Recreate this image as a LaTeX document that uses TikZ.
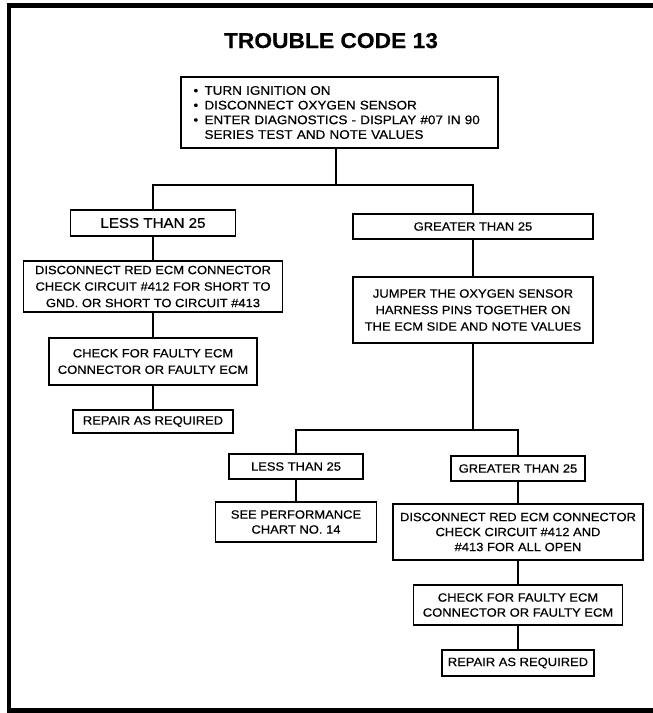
\documentclass[tikz,border=0pt]{standalone}
\usepackage{fontspec}
\setmainfont{Liberation Sans}[FakeStretch=1.08, FakeBold=0.5]
\newfontfamily\titlefont{Liberation Sans Bold}[FakeStretch=1.06, FakeBold=0.5]
\begin{document}
\begin{tikzpicture}[x=1pt,y=-1pt]
\tikzset{
  box/.style={draw, line width=1.1pt, inner sep=0pt, align=center, font=\fontsize{12}{16.5}\selectfont},
  tightbox/.style={box, font=\fontsize{12}{15}\selectfont},
  link/.style={line width=1.1pt},
  frame/.style={line width=4.5pt}
}
\useasboundingbox (0,0) rectangle (653,713);
\clip (0,0) rectangle (653,713);
\fill[white] (0,0) rectangle (653,713);
\draw[frame] (670,5.5) -- (9,5.5) -- (9,710.5) -- (670,710.5);

\node[anchor=base, font=\titlefont\fontsize{21.5}{24}\selectfont] (title) at (331,48) {TROUBLE CODE 13};

\node[box, minimum width=317, minimum height=71, text width=292, align=left,
      font=\fontsize{12.5}{14.7}\selectfont] (top) at (339.5,112.5)
 {\makebox[11pt][l]{\textbullet}TURN IGNITION ON\\
  \makebox[11pt][l]{\textbullet}DISCONNECT OXYGEN SENSOR\\
  \makebox[11pt][l]{\textbullet}ENTER DIAGNOSTICS - DISPLAY \#07 IN 90\\
  \hspace*{11pt}SERIES TEST AND NOTE VALUES};

% left column
\node[box, minimum width=165, minimum height=26, font=\fontsize{14}{16}\selectfont] (lessA) at (153,223) {LESS THAN 25};
\node[box, minimum width=259, minimum height=51] (discA) at (153,286.5)
 {DISCONNECT RED ECM CONNECTOR\\CHECK CIRCUIT \#412 FOR SHORT TO\\GND. OR SHORT TO CIRCUIT \#413};
\node[box, minimum width=208, minimum height=47] (checkA) at (153,361.5)
 {CHECK FOR FAULTY ECM\\CONNECTOR OR FAULTY ECM};
\node[box, minimum width=160, minimum height=23] (repairA) at (153,421.5) {REPAIR AS REQUIRED};

% right column
\node[box, minimum width=240, minimum height=25] (grtA) at (473,226.5) {GREATER THAN 25};
\node[box, minimum width=240, minimum height=66] (jumper) at (473,310)
 {JUMPER THE OXYGEN SENSOR\\HARNESS PINS TOGETHER ON\\THE ECM SIDE AND NOTE VALUES};

% lower branches
\node[tightbox, minimum width=134, minimum height=25] (lessB) at (296,466.5) {LESS THAN 25};
\node[tightbox, minimum width=161, minimum height=40] (perf) at (296,522)
 {SEE PERFORMANCE\\CHART NO. 14};
\node[tightbox, minimum width=134, minimum height=25] (grtB) at (518,468.5) {GREATER THAN 25};
\node[tightbox, minimum width=250, minimum height=56] (discB) at (518,532)
 {DISCONNECT RED ECM CONNECTOR\\CHECK CIRCUIT \#412 AND\\\#413 FOR ALL OPEN};
\node[tightbox, minimum width=209, minimum height=40] (checkB) at (518,605)
 {CHECK FOR FAULTY ECM\\CONNECTOR OR FAULTY ECM};
\node[tightbox, minimum width=152, minimum height=26] (repairB) at (518,663) {REPAIR AS REQUIRED};

% connectors
\coordinate (split1) at (336,185);
\coordinate (split2) at (473,430);
\draw[link] (top.south -| split1) -- (split1);
\draw[link] (lessA.north) |- (split1) -| (grtA.north);
\draw[link] (lessA.south) -- (discA.north);
\draw[link] (discA.south) -- (checkA.north);
\draw[link] (checkA.south) -- (repairA.north);
\draw[link] (grtA.south) -- (jumper.north);
\draw[link] (jumper.south) -- (split2);
\draw[link] (lessB.north) |- (split2) -| (grtB.north);
\draw[link] (lessB.south) -- (perf.north);
\draw[link] (grtB.south) -- (discB.north);
\draw[link] (discB.south) -- (checkB.north);
\draw[link] (checkB.south) -- (repairB.north);
\end{tikzpicture}
\end{document}
